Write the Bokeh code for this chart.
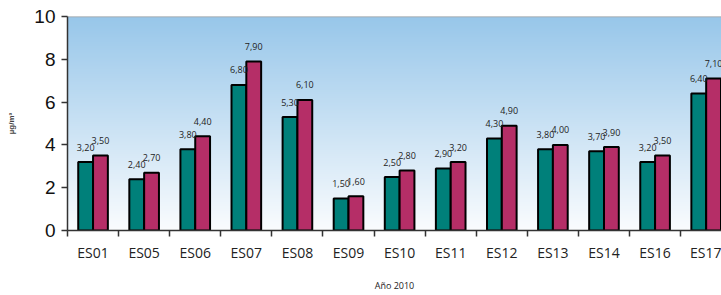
import numpy as np
from bokeh.plotting import figure
from bokeh.models import Range1d, FixedTicker, ColumnDataSource
from bokeh.core.properties import value
from bokeh.embed import file_html
from bokeh.resources import INLINE

stations = ["ES01", "ES05", "ES06", "ES07", "ES08", "ES09", "ES10",
            "ES11", "ES12", "ES13", "ES14", "ES16", "ES17"]
series_a = [3.20, 2.40, 3.80, 6.80, 5.30, 1.50, 2.50, 2.90, 4.30, 3.80, 3.70, 3.20, 6.40]
series_b = [3.50, 2.70, 4.40, 7.90, 6.10, 1.60, 2.80, 3.20, 4.90, 4.00, 3.90, 3.50, 7.10]
y_ticks = [0, 2, 4, 6, 8, 10]

n = len(stations)
centers = np.arange(n) + 0.5
bw = 0.29

def fmt(v):
    return f"{v:.2f}".replace(".", ",")

src = ColumnDataSource(dict(
    xa=centers - bw / 2, xb=centers + bw / 2,
    a=series_a, b=series_b,
    la=[fmt(v) for v in series_a], lb=[fmt(v) for v in series_b],
))

p = figure(width=721, height=295, output_backend="svg", toolbar_location=None,
           x_range=Range1d(0, 12.8), y_range=Range1d(0, 10),
           min_border_left=67, min_border_right=0, min_border_top=16,
           min_border_bottom=65)
p.outline_line_color = None
p.background_fill_color = "white"
p.border_fill_color = "white"
p.grid.visible = False

# vertical gradient background
h = 200
top = np.array([152, 199, 234])
bot = np.array([250, 252, 254])
t = np.linspace(0, 1, h)[:, None]  # row 0 = bottom
cols = (bot * (1 - t) + top * t).astype(np.uint32)
img = np.empty((h, 1), dtype=np.uint32)
view = img.view(dtype=np.uint8).reshape((h, 1, 4))
view[:, 0, 0] = cols[:, 0]
view[:, 0, 1] = cols[:, 1]
view[:, 0, 2] = cols[:, 2]
view[:, 0, 3] = 255
p.image_rgba(image=[img], x=0, y=0, dw=13, dh=10)

# top border line
p.line(x=[0, 13], y=[10, 10], line_color="#a0a0a0", line_width=1.5)

p.vbar(x="xa", top="a", width=bw, source=src, fill_color="#00807a",
       line_color="black", line_width=2)
p.vbar(x="xb", top="b", width=bw, source=src, fill_color="#b52e67",
       line_color="black", line_width=2)

p.text(x="xa", y="a", text="la", source=src, text_font=value("Open Sans"),
       text_font_size="9px", text_color="#222222", text_align="center",
       text_baseline="middle", y_offset=-15)
p.text(x="xb", y="b", text="lb", source=src, text_font=value("Open Sans"),
       text_font_size="9px", text_color="#222222", text_align="center",
       text_baseline="middle", y_offset=-15)

# x axis
xa = p.xaxis[0]
xa.ticker = FixedTicker(ticks=list(centers), minor_ticks=list(np.arange(n + 1)))
xa.major_label_overrides = {float(c): s for c, s in zip(centers, stations)}
xa.major_tick_line_color = None
xa.major_tick_out = 0
xa.major_tick_in = 0
xa.minor_tick_out = 6
xa.minor_tick_in = 0
xa.minor_tick_line_color = "#333333"
xa.minor_tick_line_width = 1.5
xa.axis_line_color = "#333333"
xa.axis_line_width = 1.5
xa.major_label_standoff = 6
xa.major_label_text_font = "Open Sans"
xa.major_label_text_font_size = "14px"
xa.major_label_text_color = "#222222"
xa.axis_label = "Año 2010"
xa.axis_label_text_font = "Open Sans"
xa.axis_label_text_font_size = "9px"
xa.axis_label_text_font_style = "normal"
xa.axis_label_text_color = "#222222"
xa.axis_label_standoff = 14

# y axis
ya = p.yaxis[0]
ya.ticker = FixedTicker(ticks=y_ticks)
ya.minor_tick_line_color = None
ya.major_tick_out = 6
ya.major_tick_in = 0
ya.major_tick_line_color = "#333333"
ya.major_tick_line_width = 1.5
ya.axis_line_color = "#333333"
ya.axis_line_width = 1.5
ya.major_label_text_font = "Liberation Sans"
ya.major_label_text_font_size = "19px"
ya.major_label_text_color = "#111111"
ya.major_label_standoff = 6
ya.axis_label = "µg/m³"
ya.axis_label_text_font = "Liberation Sans"
ya.axis_label_text_font_size = "8px"
ya.axis_label_text_font_style = "bold"
ya.axis_label_standoff = 15

open("out.html", "w").write(file_html(p, INLINE))
